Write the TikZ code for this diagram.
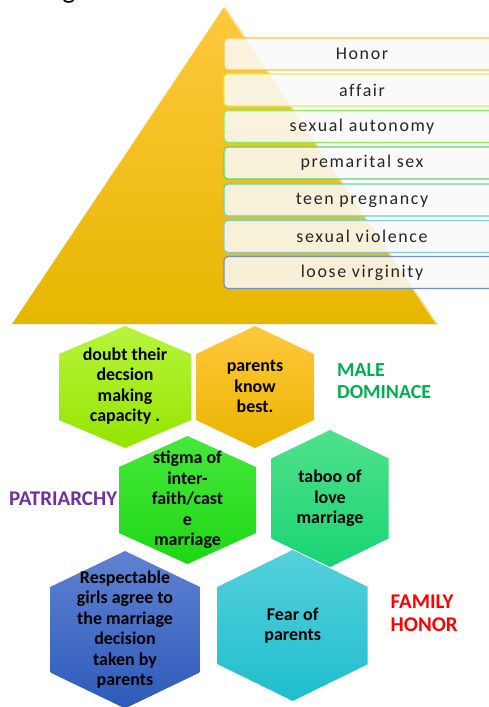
\documentclass[tikz,border=0pt]{standalone}
\usepackage{fontspec}
\setmainfont{Carlito}
\newfontfamily\boxfont[LetterSpace=9,Ligatures=NoCommon]{Carlito}
\definecolor{pyrtop}{RGB}{255,200,60}
\definecolor{pyrmid}{RGB}{251,195,0}
\definecolor{pyrbot}{RGB}{230,183,0}
\definecolor{boxfill}{RGB}{250,250,250}
\definecolor{txtgray}{RGB}{38,38,38}
\definecolor{b1}{RGB}{246,196,72}
\definecolor{b2}{RGB}{214,240,96}
\definecolor{b3}{RGB}{144,232,96}
\definecolor{b4}{RGB}{84,221,112}
\definecolor{b5}{RGB}{96,216,184}
\definecolor{b6}{RGB}{128,204,224}
\definecolor{b7}{RGB}{112,144,208}
\definecolor{hAt}{RGB}{183,245,60}\definecolor{hAb}{RGB}{148,228,0}
\definecolor{hBt}{RGB}{255,200,60}\definecolor{hBb}{RGB}{235,180,0}
\definecolor{hCt}{RGB}{70,232,60}\definecolor{hCb}{RGB}{30,215,20}
\definecolor{hDt}{RGB}{80,225,140}\definecolor{hDb}{RGB}{25,212,115}
\definecolor{hEt}{RGB}{95,130,210}\definecolor{hEb}{RGB}{45,90,185}
\definecolor{hFt}{RGB}{85,208,220}\definecolor{hFb}{RGB}{30,190,205}
\definecolor{maleg}{RGB}{0,176,80}
\definecolor{patp}{RGB}{112,48,160}
\definecolor{famr}{RGB}{255,0,0}
\newcommand\hexpoly[7]{%
  \shade[top color=#6, bottom color=#7]
    ({#1},{#2-#5}) -- ({#1+#3},{#2-#4}) -- ({#1+#3},{#2+#4}) --
    ({#1},{#2+#5}) -- ({#1-#3},{#2+#4}) -- ({#1-#3},{#2-#4}) -- cycle;}
\begin{document}
\begin{tikzpicture}[x=1bp,y=-1bp,
  lvl/.style={draw, rounded corners=4bp, line width=1.2bp, fill=boxfill,
    fill opacity=0.86, text opacity=1, minimum width=276bp, minimum height=32bp,
    font=\boxfont\fontsize{18}{20}\selectfont, text=txtgray, inner sep=0pt},
  hextext/.style={font=\bfseries\fontsize{18}{20.5}\selectfont, align=center,
    text=black, inner sep=0pt},
  lab/.style={font=\bfseries\fontsize{20}{22.5}\selectfont, align=left,
    inner sep=0pt, anchor=west}]
\clip (0,0) rectangle (489,707);
\fill[white] (0,0) rectangle (489,707);
% fragment of text at the top
\node[font=\fontsize{28}{30}\selectfont, anchor=base, inner sep=0pt] (frag) at (69,-1) {g};
% pyramid
\shade[top color=pyrtop, middle color=pyrmid, bottom color=pyrbot]
  (224,7) -- (437,324) -- (12,324) -- cycle;
\draw[line width=1.5bp, color=pyrtop!60!white] (225,8) -- (436,323);
% levels
\node[lvl, draw=b1] (l1) at (362,54) {Honor};
\node[lvl, draw=b2] (l2) at (362,90) {affair};
\node[lvl, draw=b3] (l3) at (362,126.5) {sexual autonomy};
\node[lvl, draw=b4] (l4) at (362,163) {premarital sex};
\node[lvl, draw=b5] (l5) at (362,200) {teen pregnancy};
\node[lvl, draw=b6] (l6) at (362,236.5) {sexual violence};
\node[lvl, draw=b7] (l7) at (362,272.5) {loose virginity};
% hexagons
\hexpoly{125}{387}{66}{33}{61}{hAt}{hAb}
\hexpoly{255}{387}{59}{33}{61}{hBt}{hBb}
\hexpoly{187.5}{500}{68.5}{33}{64}{hCt}{hCb}
\hexpoly{330}{498.5}{58.7}{40}{68.5}{hDt}{hDb}
\hexpoly{125}{629.7}{74.3}{43}{78.7}{hEt}{hEb}
\hexpoly{292.7}{625.5}{75}{38.7}{75.5}{hFt}{hFb}
\node[hextext] (h1) at (125,386) {doubt their\\decsion\\making\\capacity .};
\node[hextext] (h2) at (255,386.5) {parents\\know\\best.};
\node[hextext] (h3) at (187.5,500) {stigma of\\inter-\\faith/cast\\e\\marriage};
\node[hextext] (h4) at (330,498.5) {taboo of\\love\\marriage};
\node[hextext] (h5) at (125,629.7) {Respectable\\girls agree to\\the marriage\\decision\\taken by\\parents};
\node[hextext] (h6) at (292.7,625.7) {Fear of\\parents};
% labels
\node[lab, text=maleg] (male) at (337,381) {MALE\\DOMINACE};
\node[lab, text=patp, font=\bfseries\fontsize{21}{23}\selectfont] (pat) at (9,499) {PATRIARCHY};
\node[lab, text=famr, font=\bfseries\fontsize{21}{23.3}\selectfont] (fam) at (390.5,613.5) {FAMILY\\HONOR};
\end{tikzpicture}
\end{document}
